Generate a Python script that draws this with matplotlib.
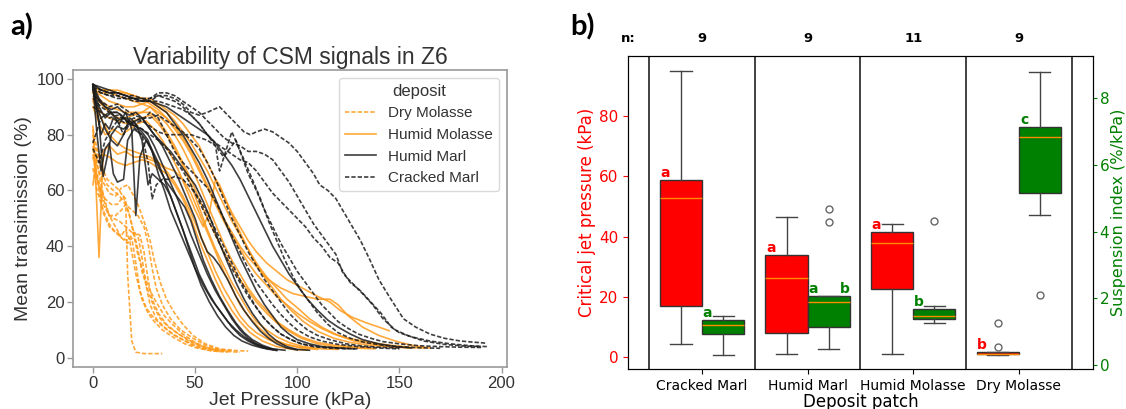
import matplotlib.pyplot as plt
from matplotlib.lines import Line2D
import matplotlib.transforms as mtransforms

# ---------------------------- a) CSM curves (jet pressure kPa, transmission %) ----------------------------
dry_molasse = [
    [(0,75),(2,66),(4,60),(6,57),(9,55),(12,55),(15,58),(16,57),(17,30),(19,6),(21,2),(25,1.5),(34,1.5)],
    [(0,78),(2,70),(4,62),(6,56),(8,51),(10,50),(13,49),(16,47),(19,45),(22,44),(24,36),(26,26),(28,19),(31,14),(35,11),(40,8),(45,6),(50,4),(56,2.8),(62,2.2)],
    [(0,72),(2,64),(5,57),(8,51),(11,47),(14,43),(17,42),(20,45),(23,44),(25,38),(27,28),(29,21),(32,16),(36,12),(41,9),(47,6),(53,4),(60,2.8),(67,2.2),(72,2)],
    [(0,80),(2,73),(4,67),(7,62),(10,60),(13,58),(16,55),(19,53),(22,51),(25,47),(27,41),(29,32),(31,25),(34,19),(38,14),(43,10),(49,7),(55,4.5),(62,3),(68,2.5)],
    [(1,70),(3,60),(5,52),(8,47),(11,45),(14,43),(17,41),(19,43),(21,34),(23,24),(26,18),(29,15),(33,12),(38,9),(44,6.5),(50,4.5),(56,3.2),(62,2.5)],
    [(0,76),(2,69),(5,63),(8,59),(11,58),(14,61),(17,62),(20,58),(22,55),(25,49),(28,42),(30,35),(33,27),(36,21),(40,16),(44,12),(49,8),(55,5),(62,3.2),(70,2.6),(76,2.4)],
    [(0,82),(2,75),(4,69),(7,64),(10,62),(13,60),(16,56),(19,48),(22,39),(24,31),(27,24),(30,18),(33,14),(37,11),(42,8.5),(48,6),(54,4),(60,3),(66,2.3)],
    [(0,73),(2,64),(5,55),(8,51),(11,51),(14,53),(16,55),(18,51),(20,44),(22,37),(25,30),(28,24),(31,20),(35,15),(39,12),(44,8.5),(50,5.5),(56,3.5),(64,2.3)],
    [(0,68),(2,60),(5,53),(8,48),(11,45),(14,44),(16,46),(18,42),(21,30),(24,21),(27,16),(30,13),(34,10),(39,7.5),(45,5),(51,3.5),(58,2.5),(66,2)],
]

humid_molasse = [
    [(0,83),(1,70),(3,36),(5,74),(8,76),(12,73),(16,74),(20,72),(24,72),(28,71),(32,70),(36,68),(40,67),(44,64),(48,59),(52,52),(56,45),(60,38),(64,31),(68,25),(72,19),(76,15),(81,11),(87,7),(94,5),(102,3.5),(110,3)],
    [(0,62),(2,72),(5,73),(8,72),(12,70),(16,69),(20,70),(24,71),(28,70),(32,68),(36,66),(40,62),(44,57),(48,50),(52,42),(56,35),(60,28),(64,22),(68,17),(72,13),(77,9),(83,6),(90,4),(98,3),(105,2.8)],
    [(0,97),(4,96),(8,96),(12,95),(16,95),(20,94),(24,93),(28,93),(32,91),(36,89),(40,87),(44,84),(48,80),(52,76),(56,70),(60,64),(64,58),(68,52),(72,47),(76,42),(80,38),(85,34),(90,31),(95,28),(100,26),(105,24),(110,22),(116,20),(121,17),(127,14.5),(134,12.5),(140,11),(145,9.7)],
    [(0,96),(4,95),(8,95),(12,94),(16,93),(20,92),(24,91),(28,90),(32,88),(36,86),(40,83),(44,79),(48,74),(52,68),(56,62),(60,56),(64,50),(68,45),(72,40),(76,36),(81,32),(86,28),(92,25),(98,23),(104,22),(110,21),(116,21),(120,19),(125,15),(132,11),(140,8),(148,6),(156,4.5),(165,3.5)],
    [(0,95),(4,92),(8,90),(12,89),(16,88),(20,88),(24,88),(28,90),(32,87),(36,84),(40,80),(44,75),(48,69),(52,62),(56,55),(60,48),(64,41),(68,35),(72,30),(76,25),(80,21),(85,17),(90,13),(96,10),(102,7.5),(110,5.5),(118,4.5),(126,4),(135,3.5)],
    [(0,93),(4,88),(8,86),(12,85),(16,84),(20,85),(24,86),(28,87),(32,84),(36,80),(40,75),(44,69),(48,62),(52,54),(56,46),(60,39),(64,33),(68,27),(72,22),(76,17),(80,13),(85,10),(90,7.5),(96,5.5),(103,4),(112,3.2),(120,3)],
    [(0,97),(4,96),(8,96),(12,96),(16,95),(20,94),(24,93),(28,91),(32,89),(36,86),(40,82),(44,78),(48,73),(52,67),(56,61),(60,55),(64,49),(68,44),(72,39),(76,34),(80,30),(85,26),(90,22),(95,19),(100,16),(106,13),(112,10.5),(118,8.5),(125,7),(132,6),(140,5),(148,4.3),(155,3.8)],
    [(0,90),(3,84),(6,80),(10,82),(14,80),(18,82),(22,84),(26,85),(30,82),(34,78),(38,73),(42,67),(46,60),(50,53),(54,47),(57,52),(60,64),(62,62),(66,55),(70,48),(74,42),(78,36),(82,31),(87,26),(92,21),(97,17),(103,13),(110,9.5),(118,7),(126,5.5),(135,4.5),(145,4),(155,3.5)],
    [(0,95),(4,91),(8,88),(12,86),(16,86),(20,87),(24,88),(28,88),(32,85),(36,81),(40,76),(44,70),(48,64),(52,57),(56,50),(60,44),(64,38),(68,33),(72,28),(76,24),(80,20),(85,16),(90,12.5),(96,9.5),(102,7),(110,5),(118,4),(128,3.5),(138,3.2)],
    [(0,92),(4,86),(8,80),(12,77),(16,75),(20,74),(24,73),(28,72),(32,70),(36,67),(40,63),(44,58),(48,52),(52,45),(56,38),(60,31),(64,25),(68,20),(72,15),(76,11.5),(80,9),(86,6.5),(92,5),(100,4),(108,3.5)],
    [(0,96),(4,94),(8,92),(12,91),(16,90),(20,90),(24,91),(28,92),(32,90),(36,88),(40,85),(44,81),(48,77),(52,72),(56,67),(60,61),(64,55),(68,49),(72,44),(76,39),(80,34),(85,29),(90,25),(95,21),(100,18),(106,14),(112,11),(120,8),(128,6),(136,5),(145,4.2),(155,3.7),(162,3.5)],
]

humid_marl = [
    [(0,98),(2,80),(4,67),(6,75),(8,77),(10,66),(12,63),(15,64),(17,78),(20,82),(24,80),(28,76),(32,70),(36,62),(40,54),(44,46),(48,38),(52,30),(56,24),(60,19),(64,15),(68,11),(72,8),(76,6),(80,4.5),(85,3.2),(90,2.6)],
    [(0,98),(2,88),(4,80),(6,84),(8,82),(10,86),(13,84),(16,88),(19,82),(21,51),(23,72),(26,78),(29,74),(32,66),(35,60),(38,53),(42,46),(46,39),(50,32),(54,26),(58,21),(62,17),(66,13),(70,10),(74,7.5),(78,5.5),(83,4),(88,3)],
    [(0,97),(3,90),(6,86),(9,88),(12,85),(15,86),(18,84),(21,85),(24,86),(27,83),(30,80),(34,77),(38,74),(42,70),(46,66),(50,62),(54,56),(58,49),(62,41),(66,34),(70,27),(74,21),(78,16),(82,12),(86,8.5),(90,6),(95,4),(100,3),(106,2.7)],
    [(0,97),(3,92),(6,90),(9,89),(12,90),(15,88),(18,87),(21,88),(24,86),(27,83),(30,80),(34,76),(38,70),(42,64),(46,57),(50,50),(53,43),(56,38),(59,36),(62,33),(66,28),(70,22),(74,17),(78,13),(82,9.5),(86,7),(90,5),(95,3.5),(100,2.8)],
    [(0,98),(4,96),(8,95),(12,95),(16,94),(20,93),(24,93),(28,92),(32,91),(36,90),(40,88),(44,86),(48,84),(52,82),(56,80),(60,77),(64,73),(68,69),(72,64),(76,58),(80,52),(84,46),(88,40),(92,35),(96,30),(100,26),(105,21),(110,17),(115,13.5),(120,11),(126,8.5),(132,6.5),(140,5),(148,4),(156,3.5)],
    [(0,97),(3,85),(5,65),(7,72),(9,80),(12,83),(15,82),(18,84),(21,83),(24,81),(27,78),(30,72),(33,67),(36,63),(39,60),(42,57),(45,54),(48,49),(51,42),(54,35),(58,28),(62,22),(66,17),(70,12.5),(74,9),(78,6.5),(83,4.5),(88,3.2),(94,2.7)],
    [(0,98),(3,93),(6,90),(9,88),(12,88),(15,86),(18,84),(21,83),(24,82),(27,80),(30,76),(33,71),(36,66),(39,61),(42,56),(45,50),(48,44),(52,37),(56,30),(60,24),(64,19),(68,14),(72,10),(76,7),(80,5),(85,3.5),(90,2.8)],
    [(0,96),(3,88),(6,82),(9,78),(12,76),(15,80),(18,86),(21,84),(24,78),(27,62),(29,66),(32,64),(35,62),(38,58),(41,52),(44,46),(47,39),(50,32),(53,26),(57,20),(61,15),(65,11),(69,8),(73,6),(78,4.5),(83,3.5),(88,3)],
    [(0,98),(4,97),(8,96),(12,95),(16,94),(20,93),(24,92),(28,92),(32,90),(36,88),(40,84),(44,80),(48,75),(52,70),(56,64),(60,57),(64,50),(68,43),(72,36),(76,30),(80,24),(84,19),(88,15),(92,11),(96,8.5),(100,6.5),(106,5),(112,4),(120,3.5),(128,3.2)],
]

cracked_marl = [
    [(0,98),(4,96),(8,95),(12,94),(16,93),(20,93),(24,92),(28,92),(32,94),(36,94),(40,93),(44,91),(48,88),(52,87),(56,88),(62,90),(66,87),(70,84),(74,81),(77,80),(80,81),(84,82),(88,81),(92,79),(96,77),(100,74),(104,70),(108,66),(111,62),(115,60),(119,57),(123,52),(127,47),(131,42),(135,36),(140,28),(145,22),(152,14),(158,11),(165,8.5),(172,7),(180,6),(193,5.2)],
    [(0,97),(4,96),(8,95),(12,95),(16,94),(20,94),(24,93),(28,93),(32,95),(36,95),(40,94),(44,92),(48,90),(52,88),(56,85),(60,82),(64,79),(68,77),(72,76),(76,74),(80,74),(84,73),(88,71),(92,67),(96,63),(100,58),(104,53),(108,48),(112,44),(116,40),(119,37),(122,31),(126,27),(131,24),(136,20),(141,16),(146,11),(150,9),(156,7.5),(165,6),(175,5),(185,4.3),(193,4)],
    [(0,96),(4,95),(8,94),(12,93),(16,93),(20,92),(24,92),(28,93),(32,94),(36,93),(40,92),(44,90),(48,87),(52,84),(56,80),(60,77),(64,75),(68,73),(72,71),(76,70),(80,67),(84,63),(88,59),(92,56),(96,53),(100,50),(104,47),(108,43),(112,40),(116,36),(120,34),(124,29),(128,26),(132,23),(137,19),(142,14),(148,10),(154,8),(162,6),(172,4.8),(182,4.2),(190,4)],
    [(0,77),(4,86),(8,88),(12,86),(16,84),(20,86),(24,85),(28,83),(32,81),(36,80),(40,80),(44,80),(48,80),(52,79),(56,78),(60,76),(62,67),(65,74),(68,81),(71,76),(74,71),(78,64),(82,57),(86,49),(90,42),(94,35),(98,29),(102,24),(106,20),(110,16),(115,12),(120,9),(126,7),(133,5.5),(142,4.5),(150,4),(160,3.6),(170,3.4)],
    [(0,75),(3,70),(6,78),(9,82),(12,85),(15,80),(18,84),(21,82),(24,80),(27,70),(29,57),(31,62),(34,64),(37,64),(40,65),(44,64),(48,61),(52,57),(56,52),(60,46),(64,40),(68,34),(72,28),(76,23),(80,18),(84,14),(88,11),(92,8.5),(97,6.5),(102,5),(110,4),(120,3.5),(130,3.2)],
    [(0,94),(4,92),(8,90),(12,91),(16,89),(20,87),(24,86),(28,86),(32,87),(36,85),(40,83),(44,81),(48,78),(52,75),(56,70),(60,64),(64,57),(68,50),(72,44),(76,38),(80,33),(84,28),(88,24),(92,20),(96,16),(100,13),(105,10),(110,8),(116,6.5),(124,5),(132,4.2),(140,3.8),(150,3.5)],
    [(0,90),(4,88),(8,86),(12,87),(16,85),(20,84),(24,85),(28,88),(32,86),(36,80),(40,74),(44,70),(48,67),(52,64),(56,61),(60,56),(64,50),(68,44),(72,38),(76,32),(80,27),(84,23),(88,19),(92,15.5),(96,12.5),(100,10),(106,7.5),(112,6),(120,4.8),(130,4),(140,3.5),(150,3.2)],
    [(0,93),(4,90),(8,88),(12,88),(16,86),(20,84),(24,82),(28,80),(32,78),(36,75),(40,71),(44,67),(48,62),(52,56),(56,50),(60,44),(64,38),(68,32),(72,27),(76,22),(80,18),(84,14),(88,11),(92,8.5),(97,6.5),(102,5),(108,4),(115,3.5),(125,3.2)],
    [(0,97),(4,95),(8,94),(12,94),(16,93),(20,93),(24,92),(28,92),(32,92),(36,91),(40,90),(44,89),(48,87),(52,84),(56,80),(60,76),(64,72),(68,76),(70,78),(73,72),(76,66),(80,60),(84,53),(88,47),(92,41),(96,36),(100,31),(104,27),(108,23),(112,19),(116,16),(120,13),(125,10.5),(130,8.5),(136,7),(142,5.8),(150,5),(160,4.3),(170,4),(180,3.8),(190,3.7)],
]

# ---------------------------- b) boxplot statistics ----------------------------
categorias = ['Cracked Marl', 'Humid Marl', 'Humid Molasse', 'Dry Molasse']
n_muestras = [9, 9, 11, 9]

# critical jet pressure (kPa)
p_whislo = [4.5, 1.0, 1.0, 0.8]
p_q1 = [17.1, 8.2, 22.5, 1.0]
p_med = [53.0, 26.4, 37.9, 1.2]
p_q3 = [58.9, 33.9, 41.7, 1.7]
p_whishi = [95.1, 46.7, 44.3, 1.7]
p_fliers = [[], [], [], [3.5, 11.5]]
p_letras = ['a', 'a', 'a', 'b']

# suspension index (%/kPa)
s_whislo = [0.30, 0.49, 1.27, 4.49]
s_q1 = [0.93, 1.15, 1.39, 5.16]
s_med = [1.20, 1.88, 1.48, 6.82]
s_q3 = [1.35, 2.06, 1.67, 7.13]
s_whishi = [1.48, 2.06, 1.76, 8.78]
s_fliers = [[], [4.28, 4.67], [4.32], [2.11]]
s_letras = [['a'], ['a', 'b'], ['b'], ['c']]

NARANJA = '#ff9a1a'
NEGRO = '#1c1c1c'
GRIS = '#333333'
FUENTE_A = 'Liberation Sans'

fig = plt.figure(figsize=(11.26, 4.09), dpi=100)

# ---------------------------- panel a) ----------------------------
ax1 = fig.add_axes([0.0651, 0.1034, 0.385, 0.7255])
grupos = [
    ('Dry Molasse', dry_molasse, NARANJA, True),
    ('Humid Molasse', humid_molasse, NARANJA, False),
    ('Humid Marl', humid_marl, NEGRO, False),
    ('Cracked Marl', cracked_marl, NEGRO, True),
]
handles = []
for nombre, curvas, color, discontinua in grupos:
    estilo = dict(color=color, lw=1.2, alpha=0.85)
    if discontinua:
        estilo['dashes'] = (2.6, 1.2)
    for curva in curvas:
        xs = [p[0] for p in curva]
        ys = [p[1] for p in curva]
        ax1.plot(xs, ys, **estilo)
    handles.append(Line2D([], [], **estilo))

ax1.set_xlim(-9.6, 202.6)
ax1.set_ylim(-3.2, 103.2)
ax1.set_xticks([0, 50, 100, 150, 200], labels=['0', '50', '100', '150', '200'],
               fontfamily=FUENTE_A)
ax1.set_yticks([0, 20, 40, 60, 80, 100], labels=['0', '20', '40', '60', '80', '100'],
               fontfamily=FUENTE_A)
ax1.tick_params(length=4.5, width=1, pad=2, color='0.6', labelcolor=GRIS, labelsize=12)
for sp in ax1.spines.values():
    sp.set_color('0.6')
    sp.set_linewidth(1.2)
ax1.set_title('Variability of CSM signals in Z6', fontsize=16.5, fontfamily=FUENTE_A,
              color=GRIS, pad=4)
ax1.set_xlabel('Jet Pressure (kPa)', fontsize=14, fontfamily=FUENTE_A, color=GRIS, labelpad=1)
ax1.set_ylabel('Mean transimission (%)', fontsize=14, fontfamily=FUENTE_A, color=GRIS, labelpad=3)
leg = ax1.legend(handles, [g[0] for g in grupos], title='deposit', loc='upper right',
                 prop={'family': FUENTE_A, 'size': 11},
                 title_fontproperties={'family': FUENTE_A, 'size': 12},
                 edgecolor='0.85', fancybox=True, framealpha=1)
for t in leg.get_texts():
    t.set_color(GRIS)
leg.get_title().set_color(GRIS)

# ---------------------------- panel b) ----------------------------
ax2 = fig.add_axes([0.5579, 0.0971, 0.4125, 0.766])
ax3 = ax2.twinx()

stats_p = []
stats_s = []
for i in range(len(categorias)):
    stats_p.append(dict(whislo=p_whislo[i], q1=p_q1[i], med=p_med[i], q3=p_q3[i],
                        whishi=p_whishi[i], fliers=p_fliers[i]))
    stats_s.append(dict(whislo=s_whislo[i], q1=s_q1[i], med=s_med[i], q3=s_q3[i],
                        whishi=s_whishi[i], fliers=s_fliers[i]))

comunes = dict(widths=0.4, patch_artist=True, manage_ticks=False,
               medianprops=dict(color='#ff8c00', lw=1),
               whiskerprops=dict(color='#444444', lw=1),
               capprops=dict(color='#444444', lw=1),
               flierprops=dict(marker='o', mfc='none', mec='#666666', ms=5, mew=1))
ax2.bxp(stats_p, positions=[i - 0.2 for i in range(4)],
        boxprops=dict(facecolor='red', edgecolor='#333333', lw=1), **comunes)
ax3.bxp(stats_s, positions=[i + 0.2 for i in range(4)],
        boxprops=dict(facecolor='green', edgecolor='#333333', lw=1), **comunes)

for x in [-0.5, 0.5, 1.5, 2.5, 3.5]:
    ax2.axvline(x, color='#333333', lw=1.3)

ax2.set_xlim(-0.7, 3.7)
ax2.set_ylim(-4.0, 100.0)
ax3.set_ylim(-0.12, 9.25)
ax2.set_xticks(range(4), labels=categorias, fontsize=10)
ax2.set_yticks([0, 20, 40, 60, 80])
ax3.set_yticks([0, 2, 4, 6, 8])
ax2.tick_params(axis='y', colors='red', labelsize=11)
ax3.tick_params(axis='y', colors='green', labelsize=11, length=3, pad=2)
ax2.set_xlabel('Deposit patch', fontsize=12, labelpad=0)
ax2.set_ylabel('Critical jet pressure (kPa)', color='red', fontsize=12, labelpad=2)
ax3.set_ylabel('Suspension index (%/kPa)', color='green', fontsize=11.5, labelpad=1)

# significance letters above each box
for i in range(4):
    ax2.text(i - 0.35, p_q3[i], p_letras[i], color='red', fontweight='bold',
             fontsize=10, ha='center', va='bottom')
    letras = s_letras[i]
    xs = [i + 0.05] if len(letras) == 1 else [i + 0.05, i + 0.35]
    for x, l in zip(xs, letras):
        ax3.text(x, s_q3[i], l, color='green', fontweight='bold',
                 fontsize=10, ha='center', va='bottom')

# sample sizes above the frame
trans = mtransforms.blended_transform_factory(ax2.transData, ax2.transAxes)
ax2.text(-0.7, 1.057, 'n:', transform=trans, ha='center', va='center',
         fontweight='bold', fontsize=9.5)
for i, n in enumerate(n_muestras):
    ax2.text(i, 1.057, str(n), transform=trans, ha='center', va='center',
             fontweight='bold', fontsize=9.5)

fig.text(0.009, 0.935, 'a)', fontsize=21, fontweight='bold', fontfamily='Lato', va='center')
fig.text(0.506, 0.935, 'b)', fontsize=21, fontweight='bold', fontfamily='Lato', va='center')

fig.savefig('out.png', dpi=100)
